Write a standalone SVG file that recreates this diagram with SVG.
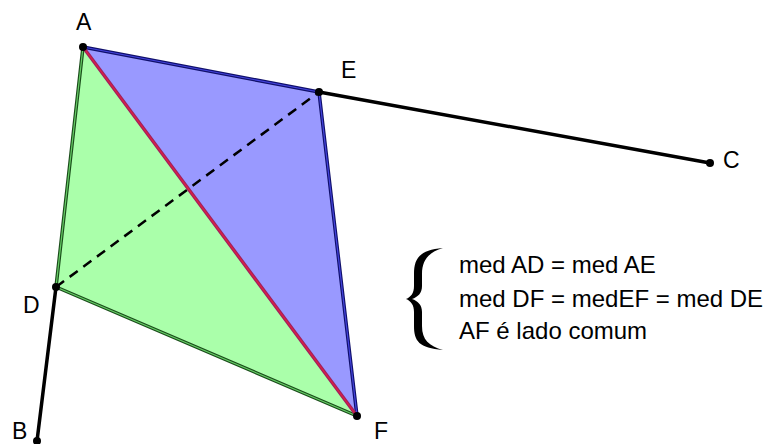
<svg xmlns="http://www.w3.org/2000/svg" width="763" height="444" viewBox="0 0 763 444">
<style>
.lbl{font-family:"Liberation Sans",Arial,sans-serif;font-size:23px;fill:#000}
.txt{font-family:"Liberation Sans",Arial,sans-serif;font-size:24px;fill:#000}
.pt{fill:#000}
</style>
<rect width="763" height="444" fill="#fff"/>
<g id="faces">
<polygon id="triADF" points="83,47 56,287 357,416" fill="#aaffaa"/>
<polygon id="triAEF" points="83,47 319,92 357,416" fill="#9999ff"/>
</g>
<g id="connectors" fill="none" stroke-linecap="round">
<line x1="56" y1="287" x2="319" y2="92" stroke="#000" stroke-width="2.5" stroke-dasharray="10,7" stroke-linecap="butt"/>
<line x1="319" y1="92" x2="710" y2="163" stroke="#000" stroke-width="3.5"/>
<line x1="56" y1="287" x2="37" y2="441" stroke="#000" stroke-width="3.5"/>
<g stroke="#1a4d1a" stroke-width="3.5">
<line x1="83" y1="47" x2="56" y2="287"/>
<line x1="56" y1="287" x2="357" y2="416"/>
</g>
<g stroke="#66cc66" stroke-width="1.2">
<line x1="83" y1="47" x2="56" y2="287"/>
<line x1="56" y1="287" x2="357" y2="416"/>
</g>
<g stroke="#10106b" stroke-width="3.5">
<line x1="83" y1="47" x2="319" y2="92"/>
<line x1="319" y1="92" x2="357" y2="416"/>
</g>
<g stroke="#4444dd" stroke-width="1.2">
<line x1="83" y1="47" x2="319" y2="92"/>
<line x1="319" y1="92" x2="357" y2="416"/>
</g>
<line x1="83" y1="47" x2="357" y2="416" stroke="#a02060" stroke-width="3.5"/>
<line x1="83" y1="47" x2="357" y2="416" stroke="#e02040" stroke-width="1.2"/>
</g>
<g id="A"><circle class="pt" cx="83" cy="47" r="4"/><text class="lbl" x="76" y="30">A</text></g>
<g id="E"><circle class="pt" cx="319" cy="92" r="4"/><text class="lbl" x="341" y="78">E</text></g>
<g id="C"><circle class="pt" cx="710" cy="163" r="4"/><text class="lbl" x="723" y="168">C</text></g>
<g id="D"><circle class="pt" cx="56" cy="287" r="4"/><text class="lbl" x="23" y="313">D</text></g>
<g id="F"><circle class="pt" cx="357" cy="416" r="4"/><text class="lbl" x="374" y="439">F</text></g>
<g id="B"><circle class="pt" cx="37" cy="441" r="4"/><text class="lbl" x="12" y="439">B</text></g>
<g id="brace">
<path d="M443,248 C419,250 414,259 414,274 L414,286 C414,293 411,297 406,299 C411,301 414,305 414,312 L414,326 C414,341 419,348 443,350 C429,346 422,340 422,326 L422,312 C422,305 418,301 412,299 C418,297 422,293 422,286 L422,274 C422,260 429,252 443,248 Z" fill="#000"/>
</g>
<g id="notes">
<text class="txt" x="459" y="273">med AD = med AE</text>
<text class="txt" x="459" y="307">med DF = medEF = med DE</text>
<text class="txt" x="459" y="339">AF é lado comum</text>
</g>
</svg>
